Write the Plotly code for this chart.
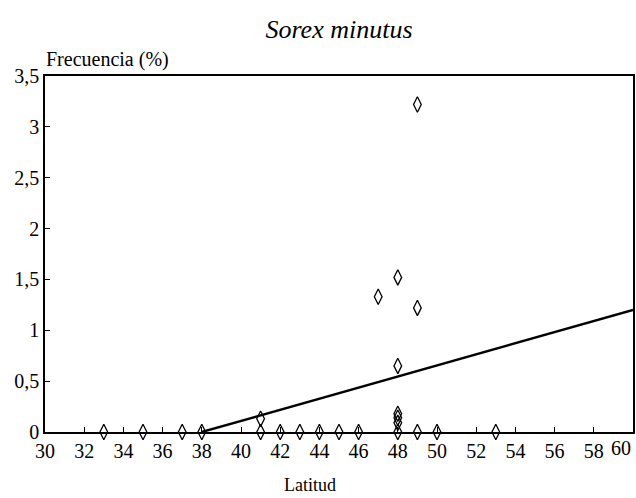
import plotly.graph_objects as go

# Data
lat = [33, 35, 37, 38, 41, 41, 42, 43, 44, 45, 46, 47, 48, 48, 48, 48, 48, 48, 49, 49, 49, 50, 53]
freq = [0, 0, 0, 0, 0, 0.13, 0, 0, 0, 0, 0, 1.33, 1.52, 0.65, 0.18, 0.14, 0.09, 0, 3.22, 1.22, 0, 0, 0]
fit_x = [38, 60]
fit_y = [0, 1.2]
xtick_vals = [30, 32, 34, 36, 38, 40, 42, 44, 46, 48, 50, 52, 54, 56, 58]
xtick_text = [str(v) for v in xtick_vals]
ytick_vals = [0, 0.5, 1, 1.5, 2, 2.5, 3, 3.5]
ytick_text = ["0", "0,5", "1", "1,5", "2", "2,5", "3", "3,5"]

font = "Liberation Serif"

fig = go.Figure()
fig.add_trace(go.Scatter(x=fit_x, y=fit_y, mode="lines",
                         line=dict(color="black", width=2.4), showlegend=False))
fig.add_trace(go.Scatter(x=lat, y=freq, mode="markers",
                         marker=dict(symbol="diamond-tall-open", size=11, color="black",
                                     line=dict(width=1.3, color="black")),
                         showlegend=False, cliponaxis=False))

fig.update_layout(
    width=636, height=498,
    margin=dict(l=45, r=3, t=76, b=66),
    paper_bgcolor="white", plot_bgcolor="white",
    font=dict(family=font, size=20, color="black"),
    title=dict(text="<i>Sorex minutus</i>", x=0.5, xref="paper", xanchor="center",
               y=1 - 29 / 498, yref="container", yanchor="middle",
               font=dict(family=font, size=26, color="black")),
    xaxis=dict(range=[30, 60], tickvals=xtick_vals, ticktext=xtick_text,
               ticks="inside", ticklen=5, tickcolor="black", automargin=False,
               tickfont=dict(family=font, size=20),
               showline=True, linecolor="black", linewidth=1.5, mirror=True,
               showgrid=False, zeroline=False),
    yaxis=dict(range=[0, 3.5], tickvals=ytick_vals, ticktext=ytick_text,
               ticks="inside", ticklen=5, tickcolor="black", automargin=False,
               tickfont=dict(family=font, size=20),
               showline=True, linecolor="black", linewidth=1.5, mirror=True,
               showgrid=False, zeroline=False),
    annotations=[
        dict(text="Frecuencia (%)", x=(107 - 45) / 588, y=(432 - 60) / 356,
             xref="paper", yref="paper", showarrow=False, xanchor="center", yanchor="middle",
             font=dict(family=font, size=20, color="black")),
        dict(text="60", x=60, y=0, xref="x", yref="y", showarrow=False, xanchor="center",
             yanchor="top", xshift=-12, yshift=-3, font=dict(family=font, size=20, color="black")),
        dict(text="Latitud", x=(310 - 45) / 588, y=(432 - 485) / 356,
             xref="paper", yref="paper", showarrow=False, xanchor="center", yanchor="middle",
             font=dict(family=font, size=18, color="black")),
    ],
)
fig.write_html("out.html", config={"displayModeBar": False},
               post_script="document.body.style.margin='0px';document.body.style.overflow='hidden';")
